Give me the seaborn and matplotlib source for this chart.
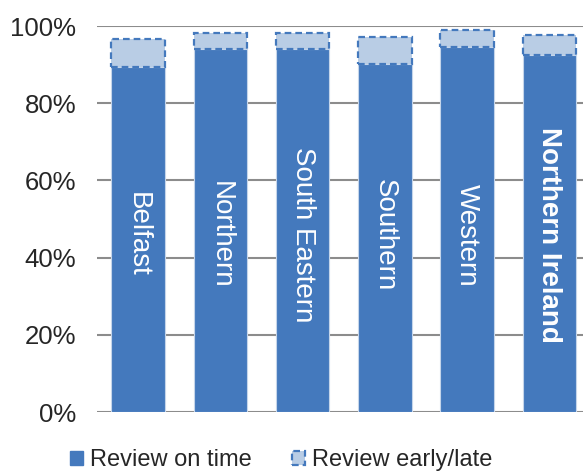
import numpy as np
import pandas as pd
import seaborn as sns
from matplotlib import pyplot as plt
from matplotlib.patches import Patch
from matplotlib.ticker import PercentFormatter

# values (percent of reviews)
trusts = ['Belfast', 'Northern', 'South Eastern', 'Southern', 'Western', 'Northern Ireland']
on_time = [89.5, 94.0, 94.0, 90.2, 94.5, 92.5]
early_late = [7.1, 4.3, 4.2, 7.0, 4.5, 5.2]

DARK = '#4479BD'
LIGHT = '#B9CDE5'
DASH = (0, (3, 1.8))

sns.set_style('white')
plt.rcParams['font.family'] = ['Liberation Sans', 'DejaVu Sans']

df = pd.DataFrame({'trust': trusts, 'on_time': on_time, 'early_late': early_late})

fig = plt.figure(figsize=(5.83, 4.76), dpi=100)
ax = fig.add_axes([97 / 583, 64 / 476, 486 / 583, 386 / 476])

# stacked bars: on-time at the bottom, early/late on top with a dashed outline
sns.barplot(data=df, x='trust', y='on_time', color=DARK, saturation=1, width=0.65,
            edgecolor='#C5D5EA', linewidth=0.8, ax=ax)
sns.barplot(data=df, x='trust', y='early_late', color=LIGHT, saturation=1, width=0.65,
            bottom=df['on_time'].values, edgecolor=DARK, linewidth=1.6,
            linestyle=DASH, ax=ax)

for i, name in enumerate(trusts):
    ax.text(i, 45.9, name, rotation=270, ha='center', va='center', color='white',
            fontsize=20, fontweight='bold' if name == 'Northern Ireland' else 'normal')

ax.set_ylim(0, 100)
ax.set_xlim(-0.5, 5.41)
ax.set_yticks(np.arange(0, 101, 20))
ax.yaxis.set_major_formatter(PercentFormatter(decimals=0))
ax.tick_params(axis='y', labelsize=18.5, length=0, pad=15)
ax.set_xticks([])
ax.set_xlabel('')
ax.set_ylabel('')
ax.grid(axis='y', color='#8C8C8C', linewidth=1.5)
ax.set_axisbelow(True)
sns.despine(ax=ax, left=True, right=True, top=True, bottom=True)

handles = [Patch(facecolor=DARK, edgecolor=DARK, label='Review on time'),
           Patch(facecolor=LIGHT, edgecolor=DARK, linestyle=DASH, linewidth=1.6,
                 label='Review early/late')]
fig.legend(handles=handles, loc='center', bbox_to_anchor=(281 / 583, 16 / 476), ncol=2,
           frameon=False, fontsize=17, handlelength=0.55, handleheight=0.55,
           handletextpad=0.3, columnspacing=1.7)

plt.savefig('out.png', dpi=100)
plt.close()
